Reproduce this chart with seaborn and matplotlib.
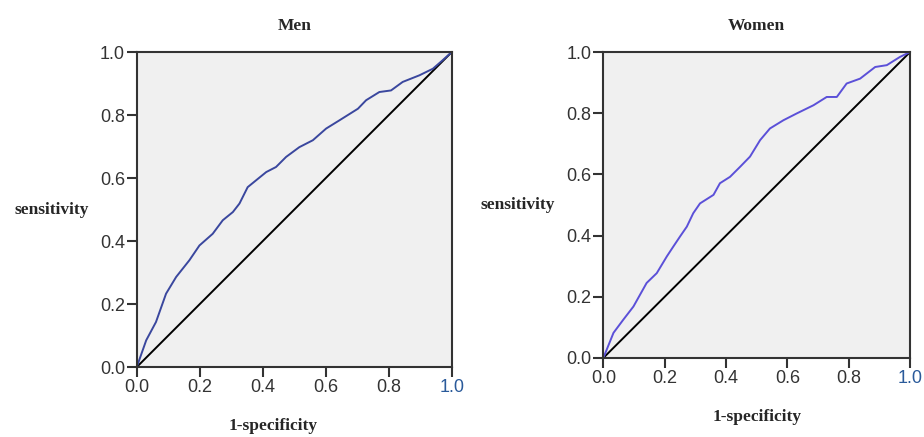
import numpy as np
import pandas as pd
import matplotlib
matplotlib.use('Agg')
import matplotlib.pyplot as plt
import seaborn as sns

# ROC curves
men_fpr = [0.0, 0.03, 0.061, 0.093, 0.125, 0.167, 0.199, 0.241, 0.273, 0.305, 0.326, 0.352,
           0.379, 0.411, 0.442, 0.474, 0.516, 0.559, 0.601, 0.643, 0.702, 0.728, 0.770,
           0.807, 0.844, 0.897, 0.940, 0.971, 1.0]
men_tpr = [0.0, 0.085, 0.143, 0.233, 0.286, 0.339, 0.386, 0.423, 0.466, 0.492, 0.519, 0.571,
           0.593, 0.619, 0.635, 0.667, 0.698, 0.720, 0.757, 0.783, 0.820, 0.847, 0.873,
           0.878, 0.905, 0.926, 0.947, 0.974, 1.0]

women_fpr = [0.0, 0.033, 0.065, 0.098, 0.141, 0.174, 0.207, 0.228, 0.25, 0.272, 0.293, 0.315,
             0.359, 0.380, 0.413, 0.446, 0.478, 0.511, 0.543, 0.587, 0.630, 0.685, 0.728,
             0.761, 0.793, 0.837, 0.886, 0.924, 0.967, 1.0]
women_tpr = [0.0, 0.082, 0.125, 0.168, 0.245, 0.277, 0.332, 0.364, 0.397, 0.429, 0.473, 0.505,
             0.533, 0.571, 0.592, 0.625, 0.658, 0.712, 0.75, 0.777, 0.799, 0.826, 0.853,
             0.853, 0.897, 0.913, 0.951, 0.957, 0.984, 1.0]

ref_line = [0.0, 1.0]
ticks = [0.0, 0.2, 0.4, 0.6, 0.8, 1.0]

sns.set_theme(style='white')
plt.rcParams['font.family'] = ['Liberation Sans', 'DejaVu Sans']

fig = plt.figure(figsize=(9.24, 4.37), dpi=100)
ax1 = fig.add_axes([0.148, 0.160, 0.341, 0.721])
ax2 = fig.add_axes([0.653, 0.181, 0.332, 0.700])

panels = [(ax1, 'Men', men_fpr, men_tpr, '#3a479e', 0.432, 16),
          (ax2, 'Women', women_fpr, women_tpr, '#5b50d8', 0.5, 16)]

serif = {'family': 'Liberation Serif', 'weight': 'bold', 'size': 12.5}

for ax, name, fpr, tpr, col, xl, lp in panels:
    df = pd.DataFrame({'fpr': fpr, 'tpr': tpr})
    ax.set_facecolor('#f0f0f0')
    sns.lineplot(x=ref_line, y=ref_line, ax=ax, color='black', linewidth=1.4)
    sns.lineplot(data=df, x='fpr', y='tpr', ax=ax, color=col, linewidth=1.4,
                 sort=False, estimator=None)
    ax.set_xlim(0, 1)
    ax.set_ylim(0, 1)
    ax.set_xticks(ticks)
    ax.set_yticks(ticks)
    ax.set_xticklabels(['%.1f' % t for t in ticks])
    ax.set_yticklabels(['%.1f' % t for t in ticks])
    ax.tick_params(axis='both', direction='out', length=7, width=1.5, labelsize=13,
                   colors='#333333', bottom=True, left=True, pad=1.5)
    ax.get_xticklabels()[-1].set_color('#2a5a9a')
    for s in ax.spines.values():
        s.set_color('#333333')
        s.set_linewidth(1.5)
    ax.set_title(name, fontdict=serif, pad=16)
    ax.set_xlabel('1-specificity', fontdict=serif, labelpad=lp)
    ax.set_ylabel('sensitivity', fontdict=serif, rotation=0, ha='right', va='center',
                  labelpad=8)
    ax.xaxis.label.set_x(xl)

fig.savefig('out.png', dpi=100)
